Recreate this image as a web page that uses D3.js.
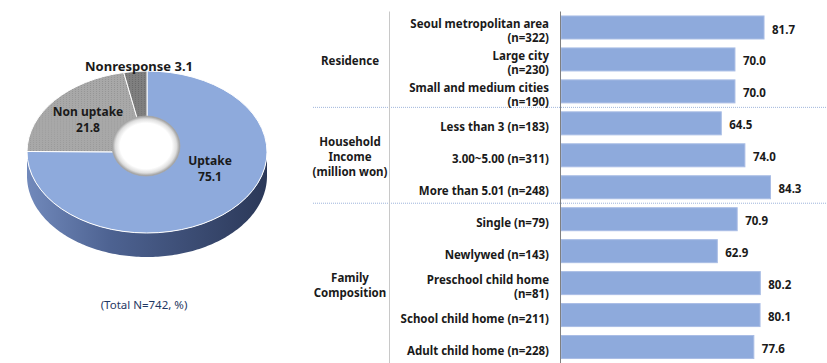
<!DOCTYPE html>
<html>
<head>
<meta charset="utf-8">
<script src="https://cdn.jsdelivr.net/npm/d3@7"></script>
<style>
  html, body { margin: 0; padding: 0; background: #fff; }
  svg { display: block; }
  text { font-family: "Noto Sans", "DejaVu Sans", sans-serif; }
</style>
</head>
<body>
<div id="chart"></div>
<script>
// pie data
const pieLabels = ["Uptake", "Non uptake", "Nonresponse"];
const pieValues = [75.1, 21.8, 3.1];

// bar data
const categories = [
  "Seoul metropolitan area\n(n=322)", "Large city\n(n=230)", "Small and medium cities\n(n=190)",
  "Less than 3 (n=183)", "3.00~5.00 (n=311)", "More than 5.01 (n=248)",
  "Single (n=79)", "Newlywed (n=143)", "Preschool child home\n(n=81)",
  "School child home (n=211)", "Adult child home (n=228)"
];
const values = [81.7, 70.0, 70.0, 64.5, 74.0, 84.3, 70.9, 62.9, 80.2, 80.1, 77.6];
const groupNames = ["Residence", "Household\nIncome\n(million won)", "Family\nComposition"];
const groupSizes = [3, 3, 5];

const W = 827, H = 363;
const svg = d3.select("#chart").append("svg").attr("width", W).attr("height", H);
const defs = svg.append("defs");

// ---------- pie ----------
const cx = 147, cy = 152, rx = 120, ry = 81, depth = 24;
const k = ry / rx;

const sideGrad = defs.append("linearGradient").attr("id", "side")
  .attr("gradientUnits", "userSpaceOnUse")
  .attr("x1", cx - rx).attr("x2", cx + rx).attr("y1", 0).attr("y2", 0);
sideGrad.append("stop").attr("offset", "0%").attr("stop-color", "#7189bb");
sideGrad.append("stop").attr("offset", "35%").attr("stop-color", "#4d6291");
sideGrad.append("stop").attr("offset", "100%").attr("stop-color", "#2b3858");

function dots(id, base, dot) {
  const p = defs.append("pattern").attr("id", id).attr("patternUnits", "userSpaceOnUse")
    .attr("width", 3).attr("height", 3);
  p.append("rect").attr("width", 3).attr("height", 3).attr("fill", base);
  p.append("rect").attr("width", 1).attr("height", 1).attr("fill", dot);
}
dots("gray1", "#a8a8a8", "#939393");
dots("gray2", "#7f7f7f", "#6a6a6a");

const holeGrad = defs.append("radialGradient").attr("id", "hole");
holeGrad.append("stop").attr("offset", "0%").attr("stop-color", "#ffffff");
holeGrad.append("stop").attr("offset", "76%").attr("stop-color", "#ffffff");
holeGrad.append("stop").attr("offset", "90%").attr("stop-color", "#dedede");
holeGrad.append("stop").attr("offset", "100%").attr("stop-color", "#999999");

const topFill = ["#8eaadc", "url(#gray1)", "url(#gray2)"];

const pie = d3.pie().sort(null)(pieValues);
const arc = d3.arc().innerRadius(0).outerRadius(rx);

const pg = svg.append("g");

// side walls (only the front half is visible)
function sidePath(s, e) {
  const a0 = Math.max(s, Math.PI / 2), a1 = Math.min(e, 3 * Math.PI / 2);
  if (a1 <= a0) return null;
  const pts = d3.range(a0, a1, 0.02).concat([a1]);
  const top = pts.map(a => [cx + rx * Math.sin(a), cy - ry * Math.cos(a)]);
  const bot = top.slice().reverse().map(p => [p[0], p[1] + depth]);
  return "M" + top.concat(bot).map(p => p.join(",")).join("L") + "Z";
}
pg.selectAll("path.side").data(pie).join("path")
  .attr("class", "side")
  .attr("d", d => sidePath(d.startAngle, d.endAngle))
  .attr("fill", "url(#side)");

// top surface
pg.append("g").attr("transform", `translate(${cx},${cy}) scale(1,${k})`)
  .selectAll("path").data(pie).join("path")
  .attr("d", arc)
  .attr("fill", (d, i) => topFill[i])
  .attr("stroke", "#ffffff")
  .attr("stroke-width", 1)
  .attr("vector-effect", "non-scaling-stroke");

// donut hole
pg.append("ellipse").attr("cx", 146).attr("cy", 146).attr("rx", 34).attr("ry", 30)
  .attr("fill", "url(#hole)").attr("stroke", "#a8a8a8").attr("stroke-width", 0.8);

// pie labels (two separate lines each)
const labelPos = [[210, 161], [88, 112]];
pie.slice(0, 2).forEach((d, i) => {
  const lines = [pieLabels[i], d3.format(".1f")(pieValues[i])];
  lines.forEach((l, j) => {
    pg.append("text").attr("x", labelPos[i][0]).attr("y", labelPos[i][1] + j * 16)
      .attr("dy", "0.35em").attr("text-anchor", "middle")
      .attr("font-size", 12).attr("font-weight", "bold").attr("fill", "#1a1a1a")
      .text(l);
  });
});
pg.append("text").attr("x", 139).attr("y", 66).attr("dy", "0.35em").attr("text-anchor", "middle")
  .attr("font-size", 13).attr("font-weight", "bold").attr("fill", "#1a1a1a")
  .text(`${pieLabels[2]} ${d3.format(".1f")(pieValues[2])}`);

svg.append("text").attr("x", 144).attr("y", 305).attr("dy", "0.35em").attr("text-anchor", "middle")
  .attr("font-size", 11.5).attr("fill", "#1f3864").text("(Total N=742, %)");

// ---------- bars ----------
const x = d3.scaleLinear().domain([0, 100]).range([561, 809.5]);
const y = d3.scaleBand().domain(categories).range([11.5, 363]).paddingInner(0.28).paddingOuter(0.14);
const step = y.step();

const bg = svg.append("g");

// group separators
let acc = 0;
const bounds = groupSizes.map(n => { const s = acc; acc += n; return [s, acc]; });
bounds.slice(0, -1).forEach(b => {
  const yy = y.range()[0] + b[1] * step;
  bg.append("line").attr("x1", 313).attr("x2", W).attr("y1", yy).attr("y2", yy)
    .attr("stroke", "#9fb5dc").attr("stroke-width", 1).attr("stroke-dasharray", "1,1");
});
bg.append("line").attr("x1", 389.5).attr("x2", 389.5).attr("y1", 11.5).attr("y2", H)
  .attr("stroke", "#c8c8c8").attr("stroke-width", 1);

bg.selectAll("rect.bar").data(values).join("rect")
  .attr("class", "bar")
  .attr("x", x(0))
  .attr("y", (d, i) => y(categories[i]))
  .attr("width", d => x(d) - x(0))
  .attr("height", y.bandwidth())
  .attr("fill", "#8eaadc")
  .attr("stroke", "#a9bde5")
  .attr("stroke-width", 1);

// axis line
bg.append("line").attr("x1", 560.5).attr("x2", 560.5).attr("y1", 11.5).attr("y2", H)
  .attr("stroke", "#808080").attr("stroke-width", 1);

// category labels
categories.forEach(c => {
  const lines = c.split("\n");
  const cyy = y(c) + y.bandwidth() / 2 + 3.5;
  const t = bg.append("text").attr("text-anchor", "end").attr("font-size", 11.5)
    .attr("font-weight", "bold").attr("fill", "#1a1a1a");
  lines.forEach((l, j) => {
    t.append("tspan").attr("x", 549).attr("y", cyy + (j - (lines.length - 1) / 2) * 14)
      .attr("dy", "0.35em").text(l);
  });
});

// value labels
bg.selectAll("text.val").data(values).join("text")
  .attr("class", "val")
  .attr("x", d => x(d) + 8)
  .attr("y", (d, i) => y(categories[i]) + y.bandwidth() / 2 + 2)
  .attr("dy", "0.35em")
  .attr("font-size", 11.5).attr("font-weight", "bold").attr("fill", "#1a1a1a")
  .text(d => d3.format(".1f")(d));

// group labels
bounds.forEach((b, i) => {
  const mid = y.range()[0] + (b[0] + b[1]) / 2 * step + 2;
  const lines = groupNames[i].split("\n");
  const t = bg.append("text").attr("text-anchor", "middle").attr("font-size", 11.5)
    .attr("font-weight", "bold").attr("fill", "#1a1a1a");
  lines.forEach((l, j) => {
    t.append("tspan").attr("x", 350).attr("y", mid + (j - (lines.length - 1) / 2) * 15)
      .attr("dy", "0.35em").text(l);
  });
});
</script>
</body>
</html>
